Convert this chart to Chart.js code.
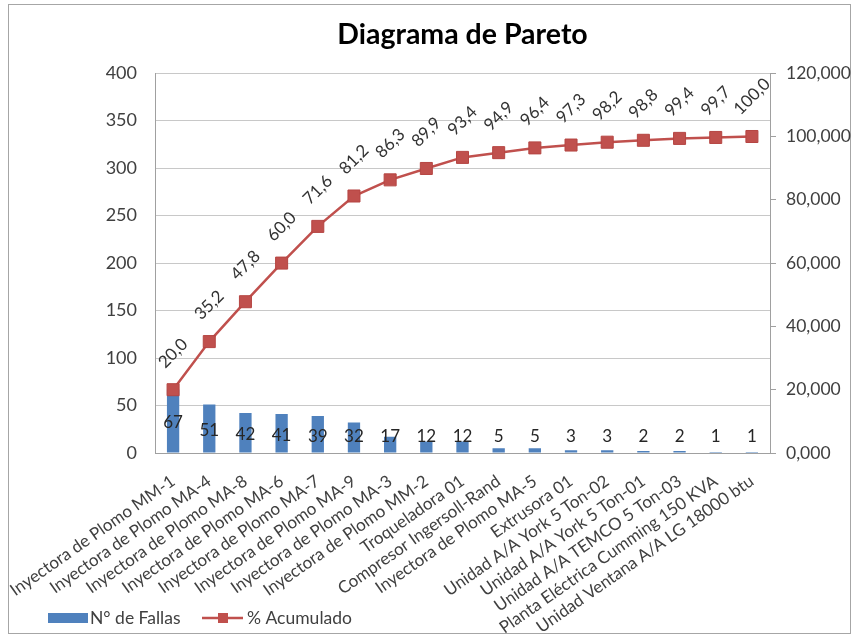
<!DOCTYPE html>
<html>
<head>
<meta charset="utf-8">
<script src="https://cdn.jsdelivr.net/npm/chart.js@4.4.1/dist/chart.umd.min.js"></script>
<style>
html, body { margin: 0; padding: 0; background: #fff; }
#wrap { width: 853px; height: 640px; position: relative; }
</style>
</head>
<body>
<div id="wrap"><canvas id="paretoChart"></canvas></div>
<script>
// datos del diagrama
const categories = [
    'Inyectora de Plomo MM-1',
    'Inyectora de Plomo MA-4',
    'Inyectora de Plomo MA-8',
    'Inyectora de Plomo MA-6',
    'Inyectora de Plomo MA-7',
    'Inyectora de Plomo MA-9',
    'Inyectora de Plomo MA-3',
    'Inyectora de Plomo MM-2',
    'Troqueladora 01',
    'Compresor Ingersoll-Rand',
    'Inyectora de Plomo MA-5',
    'Extrusora 01',
    'Unidad A/A York 5 Ton-02',
    'Unidad A/A York 5 Ton-01',
    'Unidad A/A TEMCO 5 Ton-03',
    'Planta Eléctrica Cumming 150 KVA',
    'Unidad Ventana A/A LG 18000 btu'
];
const fallas = [67, 51, 42, 41, 39, 32, 17, 12, 12, 5, 5, 3, 3, 2, 2, 1, 1];
const acumulado = [20.0, 35.2, 47.8, 60.0, 71.6, 81.2, 86.3, 89.9, 93.4, 94.9, 96.4, 97.3, 98.2, 98.8, 99.4, 99.7, 100.0];
const leftTicks = [0, 50, 100, 150, 200, 250, 300, 350, 400];
const rightTicks = [0, 20, 40, 60, 80, 100, 120];

const FONT = 'Lato, "Open Sans", sans-serif';
const BAR_COLOR = '#4F81BD';
const LINE_COLOR = '#C0504D';
const TEXT_COLOR = '#404040';

const fmtComma = (v, d) => v.toFixed(d).replace('.', ',');

const chartFrame = {
    id: 'chartFrame',
    beforeDraw(chart) {
        const ctx = chart.ctx;
        ctx.save();
        ctx.fillStyle = '#ffffff';
        ctx.fillRect(0, 0, chart.width, chart.height);
        ctx.strokeStyle = '#a6a6a6';
        ctx.lineWidth = 1;
        ctx.strokeRect(8.5, 4.5, 842, 629);
        ctx.restore();
    }
};

const valueLabels = {
    id: 'valueLabels',
    afterDatasetsDraw(chart) {
        const ctx = chart.ctx;
        ctx.save();
        ctx.font = '17px ' + FONT;
        ctx.fillStyle = '#262626';
        ctx.textAlign = 'center';
        ctx.textBaseline = 'middle';

        chart.getDatasetMeta(0).data.forEach((bar, i) => {
            const mid = (bar.y + bar.base) / 2 + 2;
            ctx.fillText(String(fallas[i]), bar.x, Math.min(mid, bar.base - 16));
        });

        ctx.fillStyle = '#333333';
        chart.getDatasetMeta(1).data.forEach((pt, i) => {
            const txt = fmtComma(acumulado[i], 1);
            const w = ctx.measureText(txt).width;
            const box = (w + 16) * Math.SQRT1_2;
            ctx.save();
            ctx.translate(pt.x, pt.y - 19 - box / 2);
            ctx.rotate(-Math.PI / 4);
            ctx.fillText(txt, 0, 0);
            ctx.restore();
        });
        ctx.restore();
    }
};

const bottomLegend = {
    id: 'bottomLegend',
    afterDraw(chart) {
        const ctx = chart.ctx;
        const ds = chart.data.datasets;
        const y = 618;
        ctx.save();
        ctx.font = '17.5px ' + FONT;
        ctx.textBaseline = 'middle';

        ctx.fillStyle = ds[0].backgroundColor;
        ctx.fillRect(48, y - 5, 40, 10);
        ctx.fillStyle = TEXT_COLOR;
        ctx.fillText(ds[0].label, 90, y);

        ctx.strokeStyle = ds[1].borderColor;
        ctx.lineWidth = 2.5;
        ctx.beginPath();
        ctx.moveTo(202, y);
        ctx.lineTo(243, y);
        ctx.stroke();
        ctx.fillStyle = ds[1].pointBackgroundColor;
        ctx.fillRect(218, y - 5, 10, 10);
        ctx.fillStyle = TEXT_COLOR;
        ctx.fillText(ds[1].label, 247, y);
        ctx.restore();
    }
};

new Chart(document.getElementById('paretoChart'), {
    type: 'bar',
    data: {
        labels: categories,
        datasets: [{
            type: 'bar',
            label: 'N° de Fallas',
            data: fallas,
            yAxisID: 'y',
            backgroundColor: BAR_COLOR,
            categoryPercentage: 1,
            barPercentage: 0.34,
            order: 1
        }, {
            type: 'line',
            label: '% Acumulado',
            data: acumulado,
            yAxisID: 'y1',
            borderColor: LINE_COLOR,
            borderWidth: 2.5,
            pointStyle: 'rect',
            pointRadius: 8.5,
            pointBackgroundColor: LINE_COLOR,
            pointBorderColor: '#B54542',
            pointBorderWidth: 1,
            tension: 0,
            order: 0
        }]
    },
    options: {
        responsive: true,
        maintainAspectRatio: false,
        animation: false,
        layout: { padding: 0 },
        plugins: {
            legend: { display: false },
            tooltip: { enabled: false },
            title: {
                display: true,
                text: 'Diagrama de Pareto',
                fullSize: false,
                color: '#000000',
                font: { family: FONT, size: 28.5, weight: 'bold' },
                padding: { top: 18, bottom: 21 }
            }
        },
        scales: {
            x: {
                grid: { display: false, drawTicks: false },
                border: { color: '#a0a0a0' },
                ticks: {
                    autoSkip: false,
                    minRotation: 35,
                    maxRotation: 35,
                    padding: 18,
                    color: TEXT_COLOR,
                    font: { family: FONT, size: 17 }
                },
                afterFit(scale) {
                    scale.height = 187;
                    scale.paddingLeft = 0;
                    scale.paddingRight = 0;
                }
            },
            y: {
                position: 'left',
                min: 0,
                max: 400,
                afterBuildTicks(scale) { scale.ticks = leftTicks.map(v => ({ value: v })); },
                grid: { color: '#c8c8c8', drawTicks: false },
                border: { color: '#a0a0a0' },
                ticks: {
                    padding: 18,
                    color: TEXT_COLOR,
                    font: { family: FONT, size: 18 }
                },
                afterFit(scale) { scale.width = 155; }
            },
            y1: {
                position: 'right',
                min: 0,
                max: 120,
                afterBuildTicks(scale) { scale.ticks = rightTicks.map(v => ({ value: v })); },
                grid: { drawOnChartArea: false, color: '#a0a0a0', tickLength: 6 },
                border: { color: '#a0a0a0' },
                ticks: {
                    padding: 10,
                    color: TEXT_COLOR,
                    font: { family: FONT, size: 17.5 },
                    callback: v => fmtComma(v, 3)
                },
                afterFit(scale) { scale.width = 83; }
            }
        }
    },
    plugins: [chartFrame, valueLabels, bottomLegend]
});
</script>
</body>
</html>
